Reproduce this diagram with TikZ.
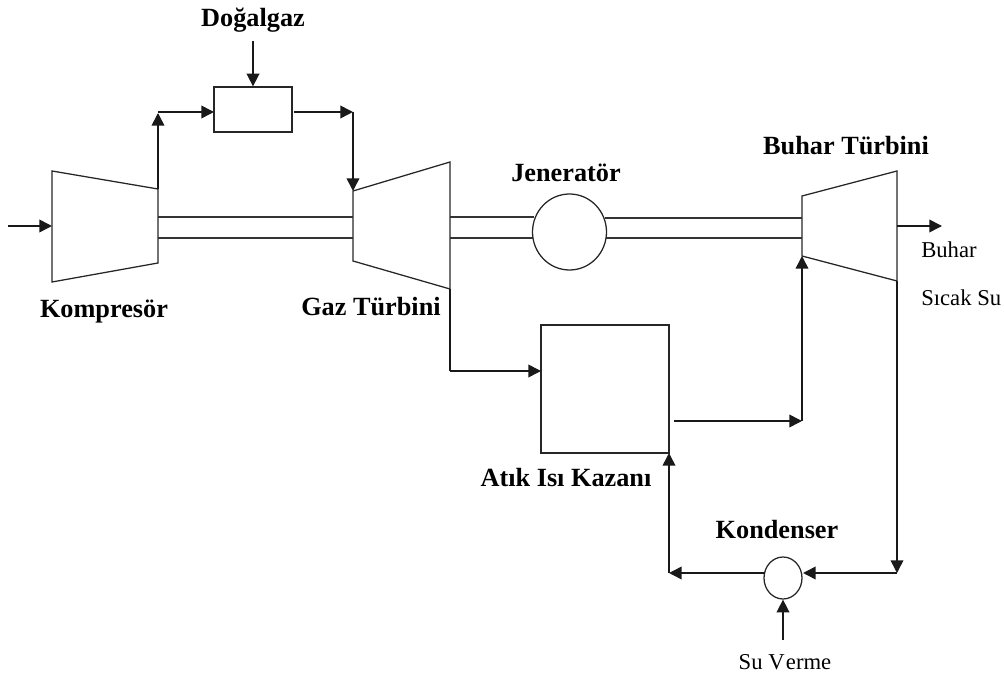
\documentclass[tikz,border=0pt]{standalone}
\usepackage{fontspec}
\setmainfont{Liberation Serif}
\usetikzlibrary{arrows.meta,shapes.geometric}
\tikzset{
  shape line/.style={draw=black!85,line width=0.95pt,line join=miter},
  flow/.style={draw=black!90,line width=1.15pt,-{Triangle[length=9.5pt,width=9.5pt]}},
  plain flow/.style={draw=black!90,line width=1.15pt},
  shaft/.style={draw=black!80,line width=1pt},
  title/.style={font=\fontsize{19.7pt}{22pt}\selectfont\bfseries,inner sep=0pt,text=black,anchor=base},
  note/.style={font=\fontsize{17pt}{20pt}\selectfont,inner sep=0pt,text=black,anchor=base},
}
\begin{document}
\begin{tikzpicture}[x=0.75pt,y=-0.75pt]
\useasboundingbox (0,0) rectangle (1004,673);
% compressor
\coordinate (c1) at (52,171); \coordinate (c2) at (158,189);
\coordinate (c3) at (158,263); \coordinate (c4) at (52,282);
\draw[shape line] (c1) -- (c2) -- (c3) -- (c4) -- cycle;
% gas turbine
\coordinate (g1) at (353,191); \coordinate (g2) at (450,162);
\coordinate (g3) at (450,289); \coordinate (g4) at (353,261);
\draw[shape line] (g1) -- (g2) -- (g3) -- (g4) -- cycle;
% steam turbine
\coordinate (s1) at (802,196); \coordinate (s2) at (897,171);
\coordinate (s3) at (897,281); \coordinate (s4) at (802,256);
\draw[shape line] (s1) -- (s2) -- (s3) -- (s4) -- cycle;
% combustor, boiler, generator, condenser
\node[shape line,rectangle,inner sep=0pt,minimum width=58.5pt,minimum height=33.75pt] (comb) at (253,109.5) {};
\node[shape line,rectangle,inner sep=0pt,minimum width=96pt,minimum height=96pt] (hrsg) at (605,389) {};
\node[shape line,ellipse,inner sep=0pt,minimum width=55.5pt,minimum height=57pt] (gen) at (569.5,232) {};
\node[shape line,ellipse,inner sep=0pt,minimum width=28.5pt,minimum height=31.5pt] (cond) at (783,578) {};
% free ends and bends
\coordinate (in) at (8,226); \coordinate (cin) at (52,226);
\coordinate (ngtop) at (253,41); \coordinate (cb) at (158,113);
\coordinate (cbin) at (214,112); \coordinate (cbs) at (158,112);
\coordinate (bout) at (294,112); \coordinate (bc) at (353,112);
\coordinate (gdown) at (450,371); \coordinate (hin) at (541,371);
\coordinate (hout) at (674,421); \coordinate (hb) at (802,421);
\coordinate (bout2) at (942,226); \coordinate (sout) at (897,226);
\coordinate (sc) at (897,573); \coordinate (ci) at (803,573);
\coordinate (co) at (765,573); \coordinate (bb) at (669,573);
\coordinate (bt) at (669,453); \coordinate (wtr) at (783,640);
% shafts
\draw[shaft] (158,217) -- (353,217) (158,238) -- (353,238);
\draw[shaft] (450,217) -- (534,217) (450,238) -- (533,238);
\draw[shaft] (605,218) -- (802,218) (606,238) -- (802,238);
% flows
\draw[flow] (in) -- (cin);
\draw[flow] (ngtop) -- (comb.north);
\draw[flow] (c2) -- (cb);
\draw[flow] (cbs) -- (cbin);
\draw[flow] (bout) -- (bc);
\draw[flow] (bc) -- (g1);
\draw[plain flow] (g3) -- (gdown);
\draw[flow] (gdown) -- (hin);
\draw[flow] (hout) -- (hb);
\draw[flow] (hb) -- (s4);
\draw[flow] (sout) -- (bout2);
\draw[flow] (s3) -- (sc);
\draw[flow] (sc) -- (ci);
\draw[flow] (co) -- (bb);
\draw[flow] (bb) -- (bt);
\draw[flow] (wtr) -- (cond.south);
% labels
\node[title] (l1) at (253,27) {Doğalgaz};
\node[title] (l2) at (104,318) {Kompresör};
\node[title] (l3) at (371,316) {Gaz Türbini};
\node[title] (l4) at (566,182) {Jeneratör};
\node[title] (l5) at (846,155) {Buhar Türbini};
\node[title] (l6) at (566,487) {Atık Isı Kazanı};
\node[title] (l7) at (777,539) {Kondenser};
\node[note,anchor=base west] (l8) at (921,258) {Buhar};
\node[note,anchor=base west] (l9) at (921,306) {Sıcak Su};
\node[note] (l10) at (785,669) {Su V\kern1pt erme};
\end{tikzpicture}
\end{document}
